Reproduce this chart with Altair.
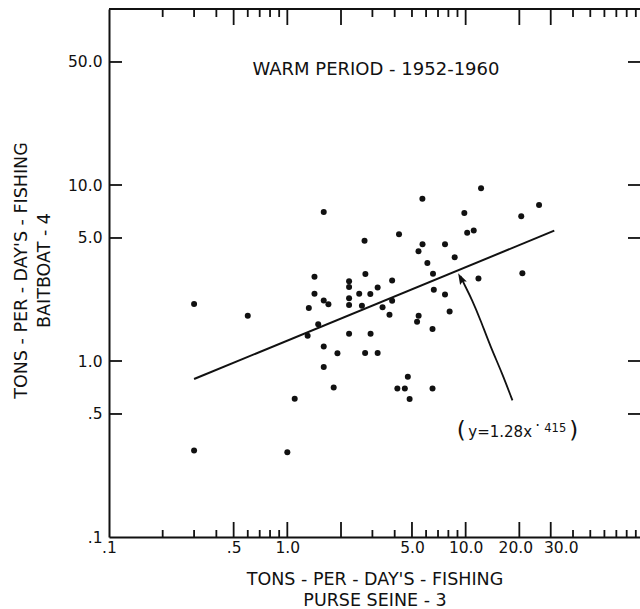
import altair as alt
import pandas as pd

# ---------------- data ----------------
# purse seine tons/day (x) vs baitboat tons/day (y), warm period 1952-1960
x_vals = [0.30, 0.30, 0.60, 1.00, 1.10, 1.30, 1.32, 1.42, 1.42, 1.49,
          1.60, 1.60, 1.60, 1.60, 1.70, 1.82, 1.91, 2.22, 2.22, 2.22,
          2.22, 2.22, 2.53, 2.62, 2.71, 2.74, 2.73, 2.92, 2.93, 3.21,
          3.21, 3.42, 3.74, 3.87, 3.87, 4.23, 4.14, 4.56, 4.74, 4.85,
          5.34, 5.45, 5.44, 5.72, 5.73, 6.10, 6.56, 6.63, 6.52, 6.52,
          7.66, 7.66, 8.13, 8.68, 9.83, 10.2, 11.1, 11.8, 12.2, 20.5,
          20.8, 25.8]
y_vals = [2.11, 0.31, 1.81, 0.303, 0.61, 1.39, 2.00, 3.01, 2.41, 1.62,
          7.03, 2.21, 1.21, 0.925, 2.10, 0.708, 1.105, 2.84, 2.63, 2.27,
          2.08, 1.43, 2.41, 2.06, 4.83, 3.12, 1.11, 2.40, 1.43, 2.62,
          1.11, 2.02, 1.83, 2.87, 2.20, 5.25, 0.698, 0.698, 0.814, 0.608,
          1.67, 1.81, 4.20, 8.36, 4.61, 3.61, 3.13, 2.54, 1.52, 0.698,
          4.61, 2.39, 1.91, 3.88, 6.94, 5.36, 5.52, 2.94, 9.57, 6.65,
          3.15, 7.70]

# fitted line y = 1.28 x^.415 (end points)
fit_x = [0.30, 31.4]
fit_y = [0.79, 5.50]

# curved arrow pointing at the fitted line
arrow_x = [18.3, 16.0, 13.76, 12.09, 10.86, 9.96, 9.34]
arrow_y = [0.597, 0.855, 1.21, 1.72, 2.23, 2.65, 3.03]
arrow_head_x = [9.42]
arrow_head_y = [2.94]

# axis labels
x_label_values = [0.1, 0.5, 1, 5, 10, 20, 30]
x_label_texts = [".1", ".5", "1.0", "5.0", "10.0", "20.0", "30.0"]
y_label_values = [0.1, 0.5, 1, 5, 10, 50]
y_label_texts = [".1", ".5", "1.0", "5.0", "10.0", "50.0"]

# tick marks drawn inside the frame
bottom_long = [0.5, 1, 2, 5, 10, 20, 30]
bottom_short = [0.2, 0.3, 0.4, 0.6, 0.7, 0.8, 0.9, 3, 4, 6, 7, 8, 9,
                40, 50, 60, 70, 80, 90]
top_long = [0.5, 1, 2, 10, 20, 30]
top_short = [0.2, 0.3, 0.4, 0.6, 0.7, 0.8, 0.9, 3, 4, 5, 6, 7, 8, 9,
             40, 50, 60, 70, 80, 90]
y_ticks = [0.5, 1, 5, 10, 50]

title_text = "WARM PERIOD - 1952-1960"
x_title = ["TONS - PER - DAY'S - FISHING", "PURSE  SEINE - 3"]
y_title = ["TONS - PER - DAY'S - FISHING", "BAITBOAT - 4"]

# ---------------- chart ----------------
W, H = 531, 528
FONT = "DejaVu Sans"
INK = "#111111"
Y_LO, Y_HI = 0.1, 100
DECADES_Y = 3.0
xs = alt.Scale(type="log", domain=[0.1, 95], nice=False)
ys = alt.Scale(type="log", domain=[Y_LO, Y_HI], nice=False)


def y_up_from_bottom(px):
    return Y_LO * 10 ** (px * DECADES_Y / H)


def y_down_from_top(px):
    return Y_HI * 10 ** (-px * DECADES_Y / H)


def label_expr(values, texts):
    expr = "''"
    for v, t in reversed(list(zip(values, texts))):
        expr = f"abs(datum.value - {v}) < 1e-6 ? '{t}' : ({expr})"
    return expr


x_axis = alt.Axis(
    values=x_label_values, labelExpr=label_expr(x_label_values, x_label_texts),
    ticks=False, tickSize=0, grid=False, domain=True, domainColor=INK,
    domainWidth=2, labelFont=FONT, labelFontSize=15.5, labelColor=INK,
    labelPadding=3, labelFlush=False, labelOverlap=False,
    labelOffset={"condition": [
        {"test": "abs(datum.value - 30) < 1e-6", "value": 10},
        {"test": "abs(datum.value - 20) < 1e-6", "value": -4}],
        "value": 0},
    title=x_title, titleFont=FONT, titleFontSize=17.5, titleFontWeight="normal",
    titleColor=INK, titleLineHeight=21, titleBaseline="top", titleY=33)
y_axis = alt.Axis(
    values=y_label_values, labelExpr=label_expr(y_label_values, y_label_texts),
    ticks=False, tickSize=0, grid=False, domain=True, domainColor=INK,
    domainWidth=2, labelFont=FONT, labelFontSize=15.5, labelColor=INK,
    labelPadding=7, labelFlush=False, labelOverlap=False,
    title=y_title, titleFont=FONT, titleFontSize=17.5, titleFontWeight="normal",
    titleColor=INK, titleLineHeight=23, titleAngle=270,
    titleBaseline="middle", titleAlign="center", titleX=-88, titleY=261)


def X(field):
    return alt.X(field, scale=xs, axis=x_axis)


def Y(field):
    return alt.Y(field, scale=ys, axis=y_axis)


pts = pd.DataFrame({"x": x_vals, "y": y_vals})
points = alt.Chart(pts).mark_circle(size=36, color=INK, opacity=1).encode(
    x=X("x:Q"), y=Y("y:Q"))


def xtick_marks(vals, y_center, length):
    # vertical tick drawn as a stroked line-shaped symbol
    df = pd.DataFrame({"x": vals, "y": [y_center] * len(vals)})
    return alt.Chart(df).mark_point(
        shape="M0,-1L0,1", filled=False, color=INK, opacity=1,
        strokeWidth=1.8, size=length * length).encode(x=X("x:Q"), y=Y("y:Q"))


xtick_layers = [
    xtick_marks(bottom_long, y_up_from_bottom(7.5), 15),
    xtick_marks(bottom_short, y_up_from_bottom(3.5), 7),
    xtick_marks(top_long, y_down_from_top(8), 16),
    xtick_marks(top_short, y_down_from_top(4), 8),
]


def hrules(vals, x1, x2):
    return alt.Chart(pd.DataFrame({"y": vals})).mark_rule(
        color=INK, strokeWidth=1.8).encode(
        y=Y("y:Q"), x=alt.value(x1), x2=alt.value(x2))


frame_top = alt.Chart(pd.DataFrame({"k": [0]})).mark_rule(
    color=INK, strokeWidth=2).encode(
    x=alt.value(0), x2=alt.value(W), y=alt.value(0))

fit = alt.Chart(pd.DataFrame({"x": fit_x, "y": fit_y})).mark_line(
    color=INK, strokeWidth=2).encode(x=X("x:Q"), y=Y("y:Q"))

arrow = alt.Chart(pd.DataFrame({"x": arrow_x, "y": arrow_y,
                                "o": list(range(len(arrow_x)))})).mark_line(
    color=INK, strokeWidth=1.8, interpolate="basis").encode(
    x=X("x:Q"), y=Y("y:Q"), order="o:Q")

head = alt.Chart(pd.DataFrame({"x": arrow_head_x, "y": arrow_head_y})).mark_point(
    shape="M0,-1L0.62,0.85L0,0.55L-0.62,0.85Z", filled=True, color=INK,
    opacity=1, size=150, angle=332).encode(x=X("x:Q"), y=Y("y:Q"))

title = alt.Chart(pd.DataFrame({"x": [3.14], "y": [44.9], "t": [title_text]})).mark_text(
    font=FONT, fontSize=18, color=INK, baseline="middle", align="center").encode(
    x=X("x:Q"), y=Y("y:Q"), text="t:N")

ann = pd.DataFrame({
    "x": [9.46, 10.35, 25.3, 27.6, 40.4],
    "y": [0.402, 0.371, 0.43, 0.397, 0.402],
    "t": ["(", "y=1.28x", "·", "415", ")"],
    "s": [23, 15, 15, 11.5, 23],
    "b": ["middle", "alphabetic", "middle", "alphabetic", "middle"],
    "a": ["center", "left", "center", "left", "center"],
})
ann_layers = []
for i in range(len(ann)):
    row = ann.iloc[[i]]
    ann_layers.append(alt.Chart(row).mark_text(
        font=FONT, fontSize=float(row["s"].iloc[0]), color=INK,
        baseline=row["b"].iloc[0], align=row["a"].iloc[0]).encode(
        x=X("x:Q"), y=Y("y:Q"), text="t:N"))

chart = alt.layer(
    points,
    hrules(y_ticks, 0, 13), hrules(y_ticks, W - 12, W),
    frame_top, fit, arrow, head, title, *ann_layers, *xtick_layers,
).properties(
    width=W, height=H,
    autosize=alt.AutoSizeParams(type="none"),
    padding={"left": 109, "top": 9, "right": 0, "bottom": 72},
    background="white",
).configure_view(stroke=None)

chart.save("out.html", embed_options={"renderer": "svg", "actions": False})
